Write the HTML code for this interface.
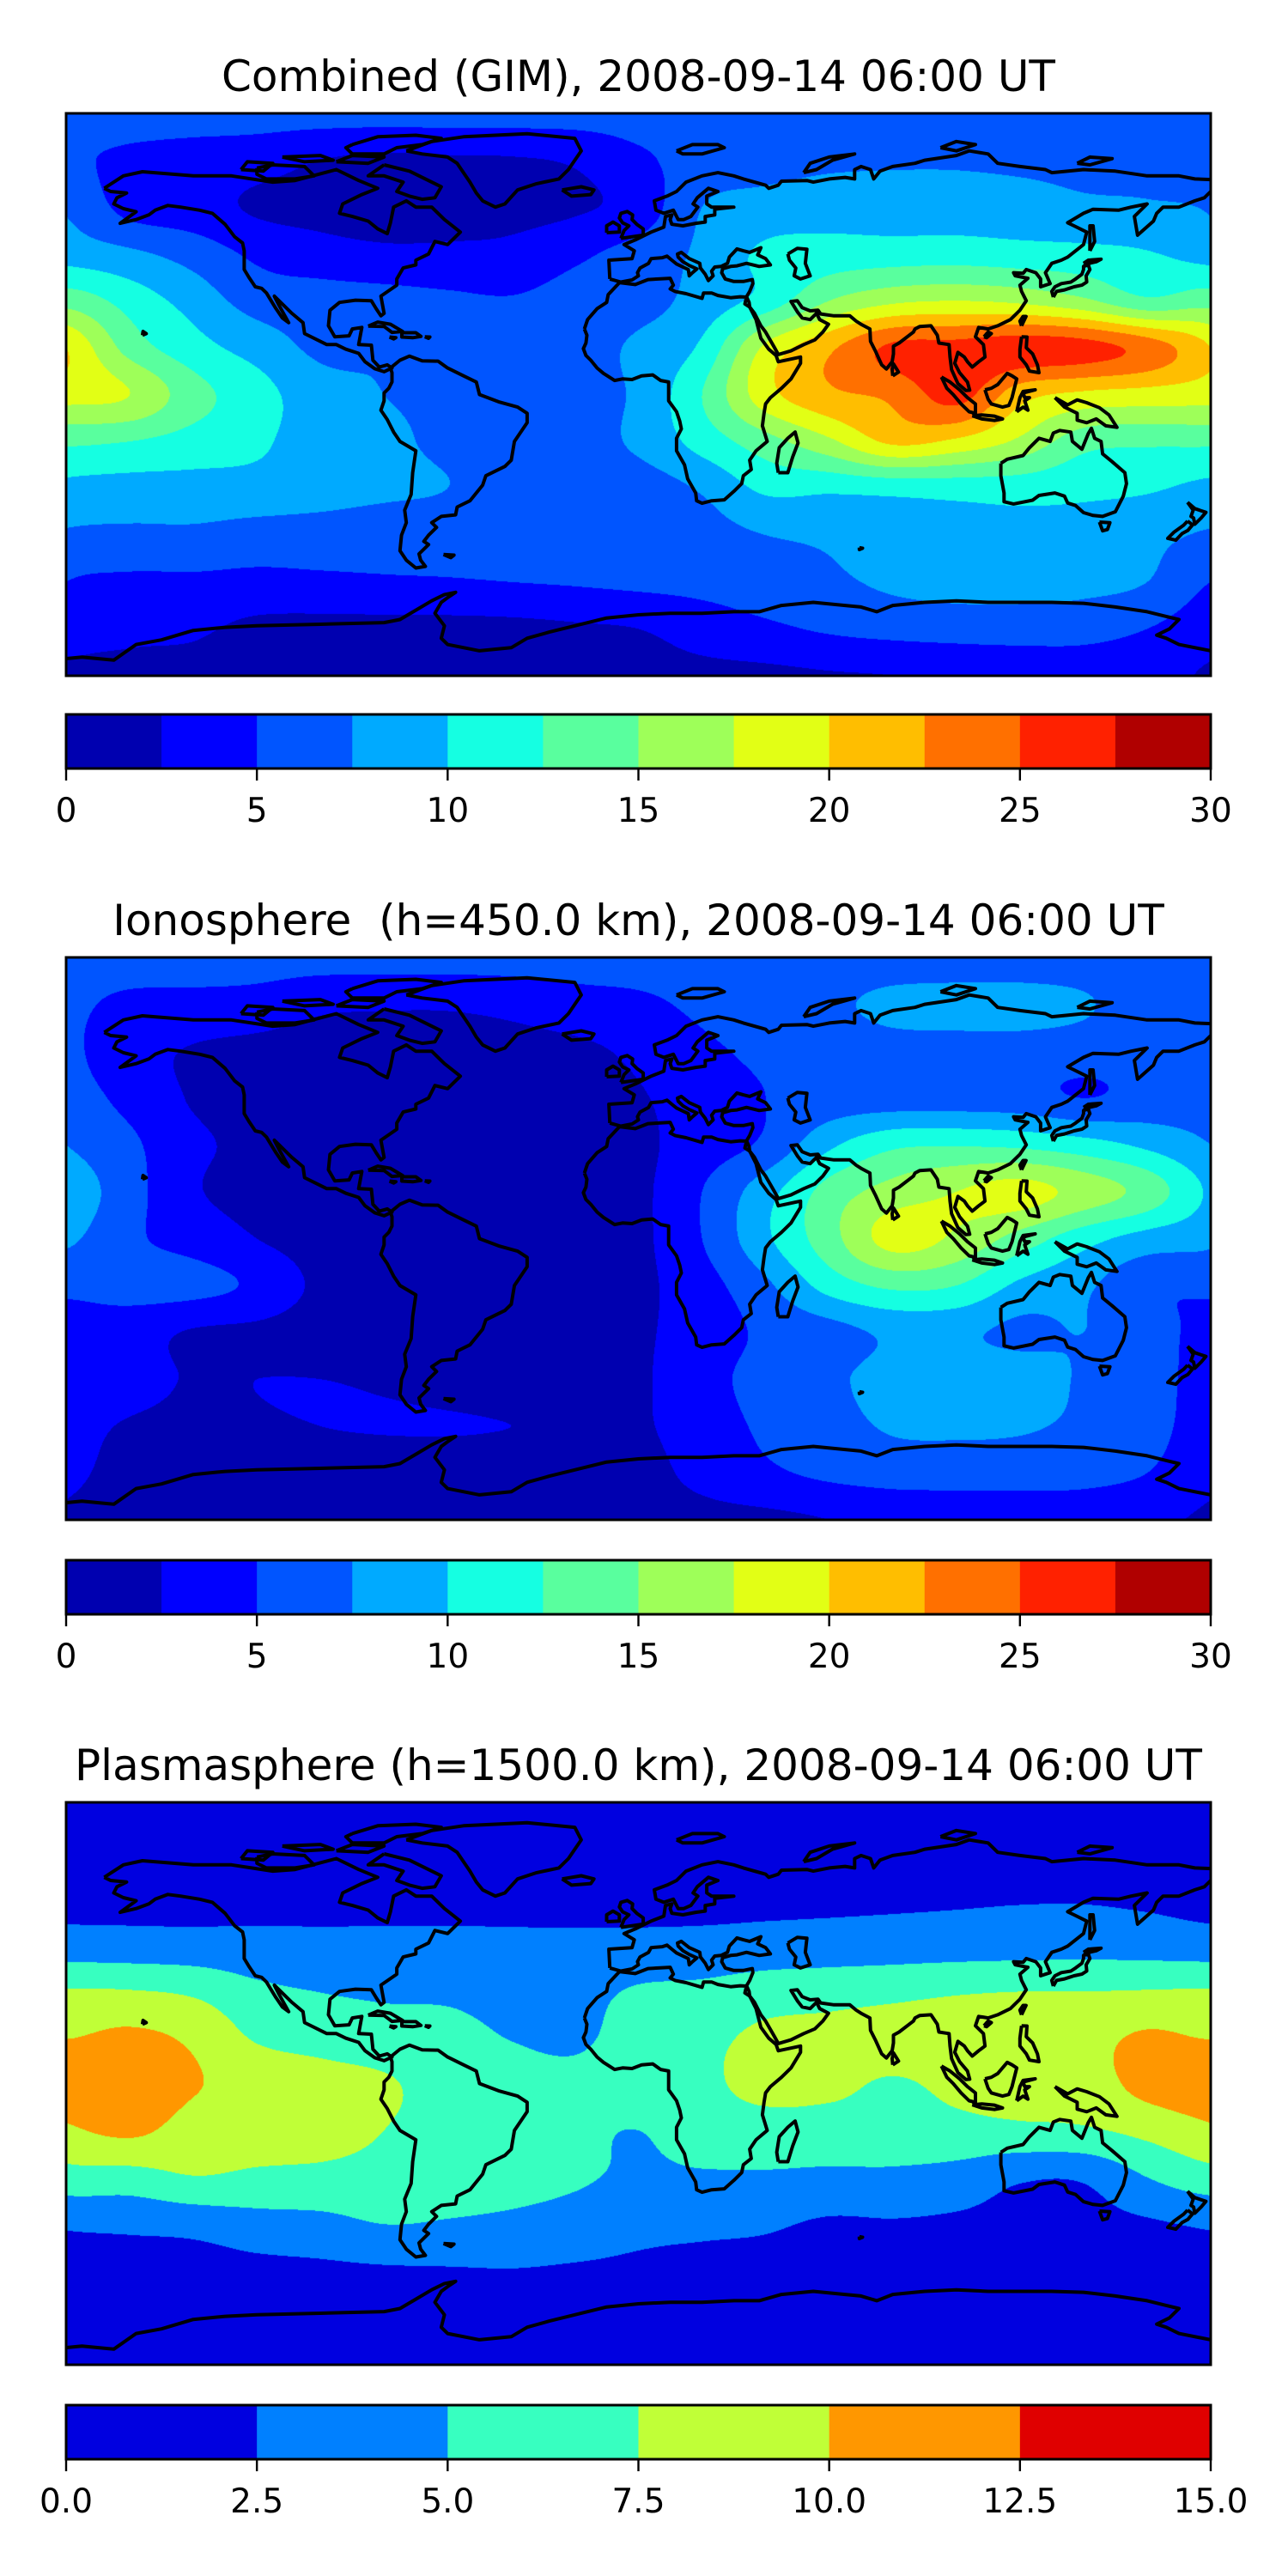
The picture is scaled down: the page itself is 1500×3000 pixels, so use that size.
<!DOCTYPE html>
<html><head><meta charset="utf-8">
<style>
html,body{margin:0;padding:0;background:#fff;}
body{width:1500px;height:3000px;position:relative;overflow:hidden;font-family:"DejaVu Sans","Liberation Sans",sans-serif;}
.title{position:absolute;left:77px;width:1333px;text-align:center;font-size:50px;color:#000;white-space:pre;line-height:58px;}
canvas{position:absolute;left:77px;}
svg{position:absolute;left:0;}
</style></head>
<body>
<div class="title" style="top:60px">Combined (GIM), 2008-09-14 06:00 UT</div>
<div class="title" style="top:1043px">Ionosphere  (h=450.0 km), 2008-09-14 06:00 UT</div>
<div class="title" style="top:2027px">Plasmasphere (h=1500.0 km), 2008-09-14 06:00 UT</div>
<script>
// ---- data ----
const gridLons = [-180,-160,-140,-120,-100,-80,-60,-40,-20,0,20,40,60,80,100,120,140,160,180];
const gridLats = [90,75,60,45,30,15,0,-15,-30,-45,-60,-75,-90];
const combinedValues = [
[6,6,6,6,6,6,6,6,6,6,6,6,6,6,6,6,6,6,6],
[5.5,4.5,4,3.5,2.5,2,2.2,2.3,2.8,4.5,6,6.5,7,7.2,7.2,7,6.8,6.5,5.5],
[7.2,4.2,3.5,2.2,1.8,1.5,1.6,1.8,2.2,3.5,7.5,8.5,9,8.8,8.8,8.6,8,7.8,7.2],
[9,8,6.5,4.5,3.5,3,3,3.2,4.5,6,8,10.5,11,11.2,11.3,11,10.8,10.2,9],
[14,11.5,9,6.5,6.2,6,5.5,5.2,6,6.5,8.5,11,15,17,17.5,17,15.5,13,14],
[20,14,11,9,7,7.2,6.5,6.5,6.5,8,10.5,18,22,25.5,26,26.5,26,24,20],
[18.5,17.5,13.5,11,8.5,7.5,7,6.5,6.5,8,12.5,19,22,23,26,21,19.5,19,18.5],
[13,12.5,11.5,10.5,8.5,8,7,6.5,6.5,8,11,14,17,20.5,19.5,17,13.5,13,13],
[9.3,9,9,9,8.5,8,7.5,6.5,6.3,6.3,7.8,10.5,10.5,10.8,11,11,10.6,10.3,9.3],
[7.2,7,7,6.5,6.3,6,6,6,6,6,6.5,7.5,8,9,9.2,9.3,9,8.2,7.2],
[5,4.5,4.5,4.3,4.5,4.7,4.8,5,5.2,5.5,5.8,6.5,7,8,8.5,8.6,8.3,7.5,5],
[3.5,3,2.8,2,1.8,1.8,1.8,1.9,2.2,2.5,3.5,4.5,5.3,5.8,6,6,5.8,5,3.5],
[2.2,2,2,2,2,2,2,2,2,2,2,2,2.3,2.5,3,3.5,3.8,3.5,2.2]];
const ionoValues = [
[6,6,6,6,6,6,6,6,6,6,6,6,6,6,6,6,6,6,6],
[5.5,4.5,4.3,4,3,2.8,2.8,3.2,4,4.5,5.5,6.5,7,8.2,8.5,8.5,7.8,6,5.5],
[5.5,3.5,2.3,1.8,1.5,1.5,1.5,1.7,2,3,4.5,5.5,6,6.5,6.5,6.5,6.2,6,5.5],
[6,4.3,2.3,1.8,1.5,1.5,1.5,1.7,2,2.3,3.8,5,6,6.2,6.2,6,5,5.8,6],
[7.5,5.5,3,2,1.5,1.5,1.5,1.5,1.6,2,3.8,5.5,9.5,12,12.3,12,11,9.5,7.5],
[9.5,6,2.8,1.8,1.5,1.5,1.5,1.5,1.6,2,5,9,13.5,16,17.5,18.5,16.5,14,9.5],
[8,5.5,4,2.5,1.5,1.5,1.5,1.5,1.6,2,5,9.5,14,18.5,17,14,11,9,8],
[5.5,6,5.8,4.5,2,1.5,1.5,1.5,1.6,2,4,7,11,13,12.5,9.5,8,5.5,5.5],
[4.2,3.5,2.3,2,1.5,1.5,1.5,1.5,1.6,2.2,3.5,5.5,6.5,8,8,7,7.5,6,4.2],
[4,3.5,2.3,2.5,2.5,2.3,2,1.8,1.8,2.2,4,6,7,8.5,8.8,8.7,7.2,6,4],
[3.5,2.3,2,2.3,2.5,2.6,2.6,2.5,2.4,2.3,3.5,5.5,6.5,7.8,8,7.8,7,6,3.5],
[3,2,1.8,1.8,1.8,1.8,1.8,1.8,1.8,2,3,4.5,5.5,6,6,6,5.8,5,3],
[2.2,2,2,2,2,2,2,2,2,2,2,2,2.5,3.2,3.5,3.5,3.5,3,2.2]];
const plasmaValues = [
[1,1,1,1,1,1,1,1,1,1,1,1,1,1,1,1,1,1,1],
[1.4,1.4,1.4,1.4,1.4,1.4,1.4,1.4,1.4,1.4,1.4,1.4,1.4,1.4,1.4,1.4,1.4,1.4,1.4],
[1.8,1.8,1.8,1.8,1.8,1.8,1.8,1.8,1.8,1.8,1.8,1.9,2,2.1,2.2,2.3,2.3,2.1,1.8],
[3.4,3.3,3.2,3.1,3,3,3,2.9,2.9,3,3.1,3.3,3.4,3.5,3.6,3.7,3.8,3.7,3.4],
[7.6,7.5,7,5.5,4.9,4.6,4.5,4,4.2,5.2,5.5,6.2,6.5,6.8,7.2,7.4,7.4,7.5,7.6],
[9.9,10.5,9.5,7.2,6.5,6,5.8,4.9,4.6,6,6.8,8,8.2,8.5,8.8,9,9.2,10.3,9.9],
[11.5,11.8,10.2,9.2,8.5,7.8,6.5,6,5.6,6.2,7,8.2,8,7.3,8,8.5,8.8,10.8,11.5],
[9.6,10.5,9,8.8,8.6,7.5,6.5,6.2,5.5,5,6.2,6.5,6.5,6.5,6.8,7,7.2,8.2,9.6],
[6.5,6.5,7.4,7,6.8,6.5,6,5.8,5.3,4.6,4.7,4.7,4.5,4.5,4,2.8,2.8,5,6.5],
[2.8,3,3.3,4,4.3,5,4.8,4.5,4,3.2,3,2.8,2.2,2.3,2.1,1.8,1.8,2.2,2.8],
[1.5,1.5,1.5,1.8,2,2.2,2.3,2.4,2.2,2,1.8,1.7,1.5,1.5,1.4,1.3,1.3,1.3,1.5],
[1,1,1,1,1,1,1,1,1,1,1,1,1,1,1,1,1,1,1],
[1,1,1,1,1,1,1,1,1,1,1,1,1,1,1,1,1,1,1]];
const tecLevels = [0,2.5,5,7.5,10,12.5,15,17.5,20,22.5,25,27.5,30];
const tecTicks = ["0","5","10","15","20","25","30"];
const tecTickValues = [0,5,10,15,20,25,30];
const plasmaLevels = [0,2.5,5,7.5,10,12.5,15];
const plasmaTicks = ["0.0","2.5","5.0","7.5","10.0","12.5","15.0"];
const plasmaTickValues = [0,2.5,5,7.5,10,12.5,15];

// coastlines [lon,lat]
const coasts = [
[[-168,66],[-162,70],[-156,71.3],[-140,70],[-128,70],[-115,68],[-108,68.5],[-95,72],[-88,68.5],[-82,66],[-87,64],[-93,61],[-94,58],[-90,57],[-85,55.5],[-82,53],[-79,51.5],[-78,55],[-77,60],[-73,62],[-70,60],[-65,60],[-61,56],[-56,52],[-60,48],[-64,49],[-66,45],[-70,43],[-70,41.5],[-74,40.5],[-76,37],[-76,35],[-81,31.5],[-80,26],[-81,25.2],[-82.5,27.5],[-84,30],[-89,30.2],[-94,29.5],[-97,27],[-97.5,22],[-95.5,18.5],[-91,18.8],[-90,21],[-87,21.5],[-88,16],[-84,15.8],[-83.5,11],[-81.5,8.8],[-79,9.5],[-77.5,8.5],[-80,7.3],[-83,8.3],[-86,10.5],[-88,13.2],[-92,14.5],[-95,16],[-98,16],[-105,19.5],[-105.5,23],[-109,26],[-112.5,29.5],[-114.5,31.5],[-113,28.5],[-110,23],[-112,24.5],[-114,27.5],[-115.5,30],[-117,32.5],[-118.5,34],[-120.5,34.5],[-122.5,37.5],[-124,40],[-124,46],[-124.5,48.5],[-127,50.5],[-130,54.5],[-134,58],[-138,59],[-144,60],[-148,60.5],[-152,59],[-154,57.5],[-158,56],[-163,54.8],[-158,58.5],[-162,59.5],[-165,61],[-164,63],[-161,64.5],[-166,65],[-168,66]],
[[-73,78],[-65,81],[-55,82.5],[-35,83.5],[-20,82],[-18,78],[-20,75],[-22,72],[-25,69],[-32,67.5],[-38,65.5],[-42,61],[-45,60],[-49,62],[-51,64.5],[-53,68],[-55,71],[-57,74],[-60,76],[-68,77],[-73,78]],
[[-90,80],[-82,82.5],[-70,83],[-62,82],[-68,80],[-76,79],[-80,77],[-90,77],[-92,79],[-90,80]],
[[-80,73.5],[-72,71.5],[-67,69],[-62,66.5],[-64,63],[-68,62.5],[-72,63.5],[-76,65],[-74,68],[-80,70],[-85,70],[-80,73.5]],
[[-120,72.5],[-115,73.5],[-105,73],[-102,70],[-108,69],[-117,69],[-120,70.5],[-120,72.5]],
[[-125,72],[-123,74.5],[-115,74],[-118,71.5],[-125,72]],
[[-112,76],[-100,76.5],[-96,75],[-105,74.5],[-112,76]],
[[-95,74.5],[-90,76.5],[-80,76],[-85,74],[-95,74.5]],
[[-24,65.5],[-18,66.5],[-14,65.5],[-15,64],[-21,63.5],[-24,65.5]],
[[-5.5,50],[1.5,51],[1.5,53],[-0.5,54.5],[-2,56],[-1.8,57.5],[-3.5,58.6],[-5.5,58],[-6,56.5],[-5,55],[-3,54],[-4.5,52.5],[-5.5,50]],
[[-10,51.8],[-6,52],[-6,54],[-8,55.2],[-10,54],[-10,51.8]],
[[-78,8.5],[-75,11],[-72,12.3],[-68,10.8],[-63,10.7],[-60,8.5],[-55,6],[-51,4],[-50,0],[-44,-2.3],[-38,-4],[-35,-6],[-35,-9],[-39,-15],[-40,-21],[-42,-23],[-48,-26],[-49,-29],[-53,-34],[-57,-36],[-57.5,-38.5],[-62,-39],[-65,-41],[-63.5,-42.5],[-66,-45],[-67.5,-47],[-66,-48],[-69,-51],[-68.5,-53],[-67,-55],[-70,-55.5],[-73,-53],[-75,-50],[-74.5,-45],[-73,-41],[-73.5,-37],[-71.5,-32],[-71,-25],[-70,-18],[-75,-15],[-77,-12],[-79,-8],[-81,-5],[-80,-2],[-80,0.5],[-78.5,2],[-77.5,4],[-77.5,7],[-78,8.5]],
[[-17,21],[-16,24],[-13,27.5],[-10,29.5],[-9.5,32],[-6,35.8],[-1,35.2],[3,36.8],[10,37.2],[11,35],[10,33.8],[11.5,33],[15,32.3],[20,30.8],[20.5,32.5],[23,32.5],[25,31.7],[29,31],[32,31.3],[34,31.2],[33.5,29],[35,28],[37,24],[38.5,18],[41,14.5],[43.3,12.5],[44,10.5],[51,12],[51,10],[48,5],[45,2],[41.5,-1],[40,-3],[39.5,-6],[39,-10],[40.5,-15],[37,-18],[35,-21],[35.5,-24],[33,-26],[32.5,-28.5],[30,-31],[27,-33.7],[23,-34],[20,-34.8],[18.3,-34],[18,-31.5],[15.5,-27],[14.5,-22.5],[12,-18],[12,-14],[13.5,-11],[13,-8.5],[12,-5.5],[9.5,-2],[9.5,1],[9.5,4],[7,4.5],[4.5,6.3],[1,6],[-2,4.8],[-5,5],[-7.5,4.5],[-11,6.8],[-13,8.5],[-15,11],[-16.5,12.5],[-17.3,14.7],[-16.5,16.5],[-16.2,19],[-17,21]],
[[44,-25],[47,-25],[48.5,-20],[50.2,-15.5],[49.3,-12],[47,-14],[44.3,-17],[43.5,-22],[44,-25]],
[[-9,37],[-9.3,43],[-2,43.5],[-1.3,46],[-4.5,48],[-1,49.5],[2,51],[4,52],[8,53.6],[8.5,57],[10.5,57.5],[10,56],[10.5,54.5],[14,54],[18,54.8],[21,55.2],[21,57],[24,57.5],[24,59.3],[30,60],[23,60],[21.5,61],[21.5,63.5],[25,65],[22,66],[18.5,63],[17.2,61],[18.7,60],[16.5,57],[14.3,56],[12.5,56],[11,59],[8,58],[5.5,59],[5,62],[9,63.5],[12,65],[15,68],[20,70],[25,71],[30,70],[33,69],[40,67],[41,66],[44,67],[45,68.3],[53,68.5],[55,68],[60,69],[65,69.5],[68,69],[68,72],[70,73],[73,72],[74,69],[76,71.5],[80,73],[87,74],[90,75],[100,76.5],[104,78],[110,77],[113,74],[120,73],[128,72],[130,71],[140,72],[150,71.5],[160,70],[170,70],[175,69],[180,68.8]],
[[180,65],[178,63],[175,62],[170,60],[165,60],[163,58],[162,55.5],[157,51],[156,57],[160,61],[155,60],[151,59],[143,59.3],[140,58],[135,55],[137,54],[141,52],[140,48],[135,44],[133,43],[130,42],[128,39],[129.5,35.5],[126.5,34.5],[126.5,37],[125,39],[122,40],[121,38.8],[118,39],[118.5,38],[122.5,37.2],[120,35],[120.5,33],[122,30],[120,27],[117,24],[113,22],[110,21],[107,21.5],[106,18.5],[108.5,16],[109,12],[107,10.5],[105,8.8],[103.5,10.5],[102.5,12],[100.5,13.5],[99.5,10],[101,7],[103.5,4],[104.2,1.4],[103,1.3],[100.5,3.5],[98.5,8],[98,12],[97.7,16],[94.5,16.5],[94,19],[92,22],[88.5,21.8],[87,21],[86.5,20],[82,16.5],[80.2,15.5],[80.2,13],[79.8,10.5],[78,8.2],[76.5,9.5],[74.5,14],[73,17],[72.8,21],[70,22.5],[68.5,23.5],[66.5,25.2],[61.5,25.2],[57.3,25.8],[56.5,27],[54,26.8],[51.5,27.8],[50,30],[48,29.8],[50,26.5],[51.5,24.5],[54,24],[56,26],[57,24],[59.8,22.5],[58,20],[55.5,17.5],[52,16],[48,14],[44,12.8],[42.8,15],[40,20],[38.5,22],[36.5,26],[35,28],[34.8,29.5],[34,31.3],[35,33],[36,35.5],[35.8,36.8],[33,36.2],[30,36.2],[27.3,37],[26.2,39],[26.5,40.3],[29,41],[31,41.2],[34,42],[38,41],[41.5,41.5],[40,43.5],[37.5,44.7],[38.5,47],[35,45.5],[33,46],[31,46.6],[30,45.5],[28.6,44],[28,42],[26,41],[24,40.8],[23,39.5],[23.5,38],[22,36.5],[21,38.5],[19.5,40.5],[19.3,42],[16,43.5],[13.5,45.5],[12.3,45],[12.5,44],[14,42.5],[16,41.3],[18.4,40.2],[17,39],[16,38],[15.7,40],[12,41.8],[10.5,43],[9,44.3],[7.5,43.8],[4,43.5],[3.2,42],[0.5,40.5],[-0.3,39],[0,38],[-2,36.7],[-5.5,36],[-9,37]],
[[47,45],[50,46.8],[53,46.5],[52.5,42],[54,38],[51,37],[49,38],[49.5,40.5],[47.5,43],[47,45]],
[[12,78],[17,80],[25,80],[27,79],[20,77],[14,77],[12,78]],
[[52,71],[54,74],[60,76],[68,77],[61,75],[56,72],[52,71]],
[[95,79],[100,81],[106,80],[100,78],[95,79]],
[[138,74],[142,76],[149,75.5],[142,73.5],[138,74]],
[[142,46],[143.5,49],[143,54],[142,54],[142,46]],
[[130.5,31.2],[131.5,33],[134,33.5],[135.5,34],[137,34.5],[139.5,35],[141,36],[140.8,38],[142,40],[141.5,41.5],[140,41],[140,40],[139.5,38.5],[137.5,37],[136,36],[133,35.5],[131,34.5],[130,33],[130.5,31.2]],
[[140,42],[141.5,43],[145.5,43.3],[144,42.5],[141,41.8],[140,42]],
[[120.5,22],[121.9,25],[121,25],[120,23.5],[120.5,22]],
[[108.7,18.5],[110,20],[111,19.5],[109.5,18.2],[108.7,18.5]],
[[120.5,18.5],[122.2,18.4],[122,15],[124,13],[125.5,9.5],[126,7],[123,7.5],[122,9.5],[120,12],[120,14.5],[120.5,18.5]],
[[95.3,5.6],[98,4],[101,1.5],[103.5,-1],[106,-3],[106,-6],[104,-5.5],[101.5,-3],[99,0],[97,2],[95.3,5.6]],
[[105,-6.8],[108,-6.5],[112,-6.9],[114.5,-7.8],[112,-8.3],[108,-7.8],[105,-6.8]],
[[109,1.5],[111,2],[113,3.2],[116,6.8],[117.5,6],[119,5],[118,1],[117.5,-1],[116.5,-3.5],[114.5,-4],[111,-3],[110,-1.5],[109,1.5]],
[[119,-5.5],[120,-1],[121,1],[124.8,1.5],[121,0.5],[121.5,-1],[123,-1],[121.5,-2],[122.5,-5],[121,-4],[119,-5.5]],
[[131,-1],[135,-3.3],[138,-1.7],[141,-2.6],[145,-4.2],[148,-6.5],[150.5,-10.5],[147,-10],[144,-7.8],[141,-9],[138,-8.2],[138,-6],[134,-4],[131,-1]],
[[114,-22],[116,-20.7],[121,-19.5],[123,-17],[126,-14],[129.5,-15],[130.5,-12.3],[132.5,-11.5],[136,-12],[136.5,-15],[139.5,-17.5],[141.5,-12.5],[142.5,-10.8],[143.5,-14],[145.5,-15],[146,-19],[149,-21.5],[153,-25],[153.5,-28.5],[152.5,-32.5],[150,-37.5],[146,-39],[143,-38.7],[140,-37.8],[137.5,-35.5],[135,-34.7],[134,-32.5],[131,-31.5],[126,-32.3],[124,-33.8],[118,-35],[115,-34.3],[115,-31.5],[114,-26],[114,-22]],
[[145,-40.8],[148.3,-41],[147.5,-43.2],[146,-43.6],[145,-40.8]],
[[172.7,-34.5],[175,-36.5],[178.5,-37.7],[177,-39.5],[175,-41.5],[174.6,-39.5],[173.8,-39],[174.5,-37],[172.7,-34.5]],
[[172.7,-40.5],[174.3,-41.7],[172.8,-43.5],[171,-44.5],[169,-46.6],[166.5,-46],[168.5,-44],[171.5,-41.8],[172.7,-40.5]],
[[-85,21.9],[-82,23.2],[-78,22.5],[-74.2,20.2],[-77.5,19.9],[-80,21.8],[-85,21.9]],
[[-74.4,19.8],[-70,19.8],[-68.4,18.6],[-71,18.2],[-74.4,18.4],[-74.4,19.8]],
[[-78.3,18.4],[-76.3,18.2],[-77,17.8],[-78.3,18.4]],
[[-67.2,18.5],[-65.6,18.4],[-66,18],[-67.2,18.5]],
[[-156,19],[-154.8,19.5],[-155.8,20.2],[-156,19]],
[[-61.3,-51.2],[-58,-51.4],[-59,-52.2],[-61.3,-51.2]],
[[80,6],[81.8,7.2],[80.2,9.8],[79.8,8],[80,6]],
[[69.5,-49],[70.5,-49.2],[69.5,-49.6],[69.5,-49]],
[[-180,-84.5],[-175,-84],[-165,-85],[-158,-80],[-150,-78.5],[-140,-75.5],[-130,-74.5],[-120,-74],[-100,-73.5],[-80,-73],[-75,-72],[-70,-69],[-65,-66],[-61,-64],[-57.5,-63.3],[-60,-65],[-62,-66.5],[-64,-70],[-61,-74],[-62,-78],[-60,-80],[-50,-82],[-40,-81],[-35,-78],[-28,-76],[-20,-74],[-10,-71.5],[0,-70.5],[10,-70],[20,-70],[30,-69.5],[38,-69.5],[45,-67.5],[55,-66.5],[65,-67.5],[70,-68],[75,-69.5],[80,-67.5],[90,-66.5],[100,-66],[110,-66.5],[120,-66.5],[130,-66.5],[140,-66.8],[150,-68],[160,-69.5],[166,-71],[170,-72],[167,-75],[163,-77],[166,-78],[170,-80],[180,-82]]
];

// ---- layout ----
const MAPX = 77, MAPW = 1333, MAPH = 655, CBH = 63;
const panels = [
 {name:'combined', top:132, cbTop:832, values:combinedValues, levels:tecLevels, ticks:tecTicks, tickValues:tecTickValues},
 {name:'ionosphere', top:1115, cbTop:1817, values:ionoValues, levels:tecLevels, ticks:tecTicks, tickValues:tecTickValues},
 {name:'plasmasphere', top:2099, cbTop:2801, values:plasmaValues, levels:plasmaLevels, ticks:plasmaTicks, tickValues:plasmaTickValues}
];

function jet(x){
  function seg(pts){for(let i=1;i<pts.length;i++){if(x<=pts[i][0]){const a=pts[i-1],b=pts[i];return a[1]+(b[1]-a[1])*(x-a[0])/(b[0]-a[0]);}}return pts[pts.length-1][1];}
  const r=seg([[0,0],[0.35,0],[0.66,1],[0.89,1],[1,0.5]]);
  const g=seg([[0,0],[0.125,0],[0.375,1],[0.64,1],[0.91,0],[1,0]]);
  const b=seg([[0,0.5],[0.11,1],[0.34,1],[0.65,0],[1,0]]);
  return [Math.round(r*255),Math.round(g*255),Math.round(b*255)];
}
function cr(p0,p1,p2,p3,t){return p1+0.5*t*(p2-p0+t*(2*p0-5*p1+4*p2-p3+t*(3*(p1-p2)+p3-p0)));}
const NL = gridLons.length-1;
function sample(vals, lon, lat){
  const fi=(lon-gridLons[0])/(gridLons[1]-gridLons[0]);
  const fj=(gridLats[0]-lat)/(gridLats[0]-gridLats[1]);
  const i1=Math.floor(fi), j1=Math.min(Math.floor(fj),gridLats.length-2);
  const ti=fi-i1, tj=fj-j1;
  const rows=[];
  for(let dj=-1;dj<=2;dj++){
    const j=Math.max(0,Math.min(gridLats.length-1,j1+dj));
    const row=vals[j];
    const c=[];
    for(let di=-1;di<=2;di++){let i=((i1+di)%NL+NL)%NL;c.push(row[i]);}
    rows.push(cr(c[0],c[1],c[2],c[3],ti));
  }
  return cr(rows[0],rows[1],rows[2],rows[3],tj);
}
function xOf(lon){return MAPX+(lon+180)/360*MAPW;}
function yOf(lat,top){return top+(90-lat)/180*MAPH;}

const SVGNS='http://www.w3.org/2000/svg';
panels.forEach(function(p){
  const n=p.levels.length-1;
  const pal=[];
  for(let k=0;k<n;k++)pal.push(jet((k+0.5)/n));
  const cv=document.createElement('canvas');
  cv.width=MAPW;cv.height=MAPH;cv.style.top=p.top+'px';
  
  
  document.body.appendChild(cv);
  const ctx=cv.getContext('2d');
  const img=ctx.createImageData(MAPW,MAPH);
  const lo=p.levels[0], hi=p.levels[n], step=(hi-lo)/n;
  for(let py=0;py<MAPH;py++){
    const lat=90-(py+0.5)/MAPH*180;
    for(let px=0;px<MAPW;px++){
      const lon=-180+(px+0.5)/MAPW*360;
      const v=sample(p.values,lon,lat);
      let k=Math.floor((v-lo)/step); if(k<0)k=0; if(k>n-1)k=n-1;
      const c=pal[k],o=(py*MAPW+px)*4;
      img.data[o]=c[0];img.data[o+1]=c[1];img.data[o+2]=c[2];img.data[o+3]=255;
    }
  }
  ctx.putImageData(img,0,0);
  const svg=document.createElementNS(SVGNS,'svg');
  svg.setAttribute('width','1500');svg.setAttribute('height','3000');
  svg.style.top='0px';
  
  
  document.body.appendChild(svg);
  const clip=document.createElementNS(SVGNS,'clipPath');
  clip.setAttribute('id','clip-'+p.name);
  const cr_=document.createElementNS(SVGNS,'rect');
  cr_.setAttribute('x',MAPX);cr_.setAttribute('y',p.top);cr_.setAttribute('width',MAPW);cr_.setAttribute('height',MAPH);
  clip.appendChild(cr_);svg.appendChild(clip);
  const cg=document.createElementNS(SVGNS,'g');
  cg.setAttribute('clip-path','url(#clip-'+p.name+')');
  
  
  svg.appendChild(cg);
  coasts.forEach(function(poly){
    const d=poly.map(function(q,i){return (i?'L':'M')+xOf(q[0]).toFixed(1)+' '+yOf(q[1],p.top).toFixed(1);}).join('');
    const path=document.createElementNS(SVGNS,'path');
    path.setAttribute('d',d);path.setAttribute('fill','none');path.setAttribute('stroke','#000');
    path.setAttribute('stroke-width','4');path.setAttribute('stroke-linejoin','round');
    
    
    cg.appendChild(path);
  });
  const frame=document.createElementNS(SVGNS,'rect');
  frame.setAttribute('x',MAPX);frame.setAttribute('y',p.top);frame.setAttribute('width',MAPW);frame.setAttribute('height',MAPH);
  frame.setAttribute('fill','none');frame.setAttribute('stroke','#000');frame.setAttribute('stroke-width','3');
  
  
  svg.appendChild(frame);
  const cb=document.createElementNS(SVGNS,'g');
  
  
  svg.appendChild(cb);
  function cbX(v){return MAPX+(v-lo)/(hi-lo)*MAPW;}
  for(let k=0;k<n;k++){
    const r=document.createElementNS(SVGNS,'rect');
    const x0=cbX(p.levels[k]), x1=cbX(p.levels[k+1]);
    r.setAttribute('x',x0);r.setAttribute('y',p.cbTop);r.setAttribute('width',x1-x0+0.5);r.setAttribute('height',CBH);
    r.setAttribute('fill','rgb('+pal[k].join(',')+')');
    
    
    cb.appendChild(r);
  }
  const cf=document.createElementNS(SVGNS,'rect');
  cf.setAttribute('x',MAPX);cf.setAttribute('y',p.cbTop);cf.setAttribute('width',MAPW);cf.setAttribute('height',CBH);
  cf.setAttribute('fill','none');cf.setAttribute('stroke','#000');cf.setAttribute('stroke-width','3');
  
  
  cb.appendChild(cf);
  p.tickValues.forEach(function(tv,i){
    const x=cbX(tv);
    const ln=document.createElementNS(SVGNS,'line');
    ln.setAttribute('x1',x);ln.setAttribute('x2',x);ln.setAttribute('y1',p.cbTop+CBH);ln.setAttribute('y2',p.cbTop+CBH+14);
    ln.setAttribute('stroke','#000');ln.setAttribute('stroke-width','2.4');
    
    
    cb.appendChild(ln);
    const t=document.createElementNS(SVGNS,'text');
    t.setAttribute('x',x);t.setAttribute('y',p.cbTop+CBH+62);
    t.setAttribute('text-anchor','middle');t.setAttribute('font-size','39');
    t.setAttribute('font-family','DejaVu Sans, Liberation Sans, sans-serif');
    t.textContent=p.ticks[i];
    
    
    cb.appendChild(t);
  });
});
</script>
</body></html>
